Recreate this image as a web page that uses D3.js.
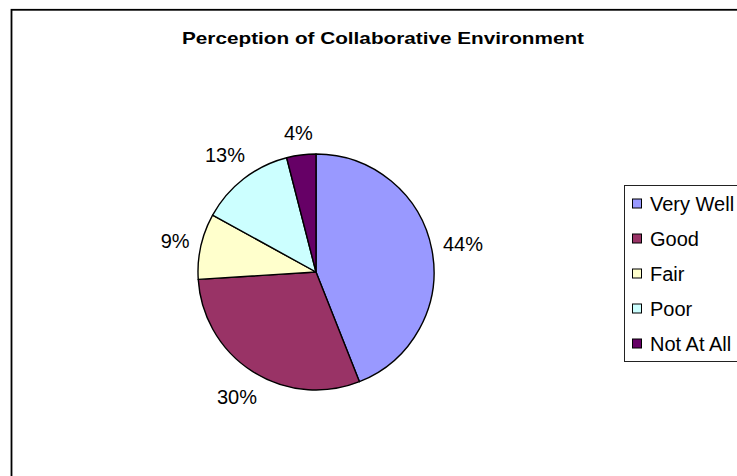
<!DOCTYPE html>
<html>
<head>
<meta charset="utf-8">
<script src="https://cdn.jsdelivr.net/npm/d3@7"></script>
<style>
  html, body { margin: 0; padding: 0; background: #fff; }
  svg { display: block; }
  text { font-family: "Liberation Sans", Arial, sans-serif; fill: #000; }
</style>
</head>
<body>
<svg id="chart" width="737" height="476"></svg>
<script>
// Survey answers, share of respondents (%)
const categories = ["Very Well", "Good", "Fair", "Poor", "Not At All"];
const shares = [44, 30, 9, 13, 4];
const sliceColors = ["#9999FF", "#993366", "#FFFFCC", "#CCFFFF", "#660066"];
const chartTitle = "Perception of Collaborative Environment";

const svg = d3.select("#chart");

// chart frame (runs past the right and bottom edges of the view)
svg.append("rect")
  .attr("x", 11.5).attr("y", 9.8)
  .attr("width", 800).attr("height", 600)
  .attr("fill", "#fff")
  .attr("stroke", "#000")
  .attr("stroke-width", 1.8);

// title
svg.append("text")
  .attr("x", 383).attr("y", 44)
  .attr("text-anchor", "middle")
  .attr("font-size", 16.5)
  .attr("font-weight", "bold")
  .attr("textLength", 402)
  .attr("lengthAdjust", "spacingAndGlyphs")
  .text(chartTitle);

// pie
const cx = 316, cy = 272, radius = 118;
const color = d3.scaleOrdinal().domain(categories).range(sliceColors);
const pie = d3.pie().sort(null).value(d => d.value).startAngle(0).endAngle(2 * Math.PI);
const data = categories.map((c, i) => ({ name: c, value: shares[i] }));
const arcs = pie(data);

const arc = d3.arc().innerRadius(0).outerRadius(radius);

const g = svg.append("g").attr("transform", `translate(${cx},${cy})`);
g.selectAll("path.slice")
  .data(arcs)
  .join("path")
  .attr("class", "slice")
  .attr("d", arc)
  .attr("fill", d => color(d.data.name))
  .attr("stroke", "#000")
  .attr("stroke-width", 1.4)
  .attr("stroke-linejoin", "round");

// percentage labels: pushed out along each slice's mid-angle so the
// label box sits a fixed gap beyond the rim
const fmt = d3.format(".0%");
const labelGap = 10, labelHalfH = 10.5;
g.selectAll("text.pct")
  .data(arcs)
  .join("text")
  .attr("class", "pct")
  .attr("text-anchor", "middle")
  .attr("dominant-baseline", "central")
  .attr("font-size", 20)
  .text(d => fmt(d.data.value / d3.sum(shares)))
  .each(function (d) {
    const mid = (d.startAngle + d.endAngle) / 2;
    const ux = Math.sin(mid), uy = -Math.cos(mid);
    const halfW = this.getComputedTextLength() / 2;
    const dist = radius + labelGap + halfW * Math.abs(ux) + labelHalfH * Math.abs(uy);
    d3.select(this).attr("transform", `translate(${ux * dist},${uy * dist})`);
  });

// legend
const legendX = 624, legendTop = 185, legendBottom = 361;
svg.append("rect")
  .attr("x", legendX + 0.5).attr("y", legendTop + 0.5)
  .attr("width", 200).attr("height", legendBottom - legendTop)
  .attr("fill", "#fff")
  .attr("stroke", "#222")
  .attr("stroke-width", 1);

const rowY = d3.scalePoint().domain(categories).range([203.5, 343.5]);
const rows = svg.selectAll("g.legend-row")
  .data(categories)
  .join("g")
  .attr("class", "legend-row")
  .attr("transform", d => `translate(${legendX},${rowY(d)})`);

rows.append("rect")
  .attr("x", 8.5).attr("y", -4.5)
  .attr("width", 9).attr("height", 9)
  .attr("fill", d => color(d))
  .attr("stroke", "#000")
  .attr("stroke-width", 1);

rows.append("text")
  .attr("x", 26).attr("y", 0)
  .attr("dominant-baseline", "central")
  .attr("font-size", 20)
  .text(d => d);
</script>
</body>
</html>
